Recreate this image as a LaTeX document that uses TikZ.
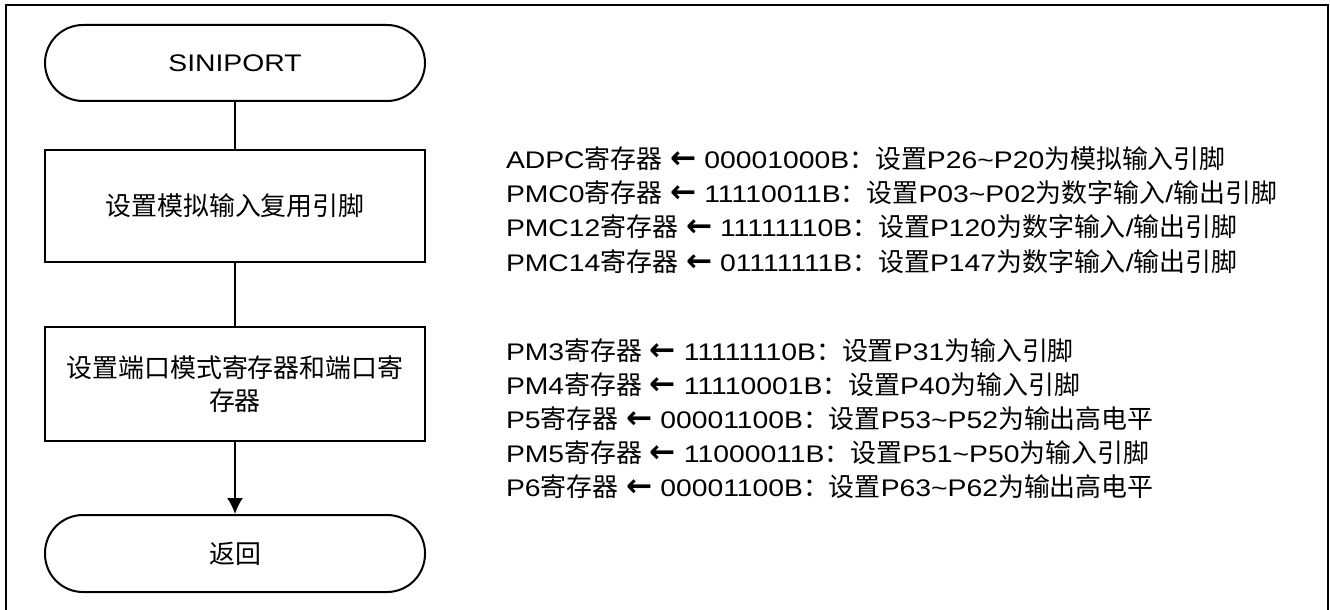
\documentclass[tikz,border=0pt]{standalone}
\usepackage{fontspec}
\setmainfont{Liberation Sans}[FakeStretch=1.18]
\newfontfamily\cjk{Noto Sans CJK SC}[Scale=1.08]
\newfontfamily\sym{DejaVu Sans}[Scale=1.3]
\newcommand\zh[1]{{\cjk #1}}
\newcommand\lar{{\sym\bfseries ←}}
\usetikzlibrary{arrows.meta}

\begin{document}
\begin{tikzpicture}[x=0.5pt,y=-0.5pt,
  line width=1pt,
  font=\fontsize{12}{16.5}\selectfont,
  term/.style={draw, rounded corners=19pt, minimum width=190pt, minimum height=38pt, inner sep=0pt},
  proc/.style={draw, minimum width=190pt, minimum height=56pt, inner sep=0pt, align=center},
  note/.style={anchor=base west, inner sep=0pt}]

\useasboundingbox (0,0) rectangle (1330,610);

% outer frame
\draw (6,616) -- (6,5) -- (1328,5) -- (1328,616);

% flow chart
\node[term] (start) at (235,63) {SINIPORT};
\node[proc] (setana) at (235,206) {\zh{设置模拟输入复用引脚}};
\node[proc, minimum height=57pt] (setport) at (235,384) {\zh{设置端口模式寄存器和端口寄}\\\zh{存器}};
\node[term, minimum height=38.5pt] (ret) at (235,553.5) {\zh{返回}};

\draw (start) -- (setana);
\draw (setana) -- (setport);
\draw [-{Latex[length=8pt,width=8pt]}] (setport) -- (ret);

% notes for the analog input pins
\foreach \txt [count=\i] in {
  ADPC\zh{寄存器} \lar{} 00001000B\zh{：设置}P26\textasciitilde P20\zh{为模拟输入引脚},
  PMC0\zh{寄存器} \lar{} 11110011B\zh{：设置}P03\textasciitilde P02\zh{为数字输入}/\zh{输出引脚},
  PMC12\zh{寄存器} \lar{} 11111110B\zh{：设置}P120\zh{为数字输入}/\zh{输出引脚},
  PMC14\zh{寄存器} \lar{} 01111111B\zh{：设置}P147\zh{为数字输入}/\zh{输出引脚}}
  \node[note] (ana\i) at (505,{135+34*\i}) {\txt};

% notes for the port registers
\foreach \txt [count=\i] in {
  PM3\zh{寄存器} \lar{} 11111110B\zh{：设置}P31\zh{为输入引脚},
  PM4\zh{寄存器} \lar{} 11110001B\zh{：设置}P40\zh{为输入引脚},
  P5\zh{寄存器} \lar{} 00001100B\zh{：设置}P53\textasciitilde P52\zh{为输出高电平},
  PM5\zh{寄存器} \lar{} 11000011B\zh{：设置}P51\textasciitilde P50\zh{为输入引脚},
  P6\zh{寄存器} \lar{} 00001100B\zh{：设置}P63\textasciitilde P62\zh{为输出高电平}}
  \node[note] (port\i) at (505,{326+34*\i}) {\txt};

\end{tikzpicture}
\end{document}
